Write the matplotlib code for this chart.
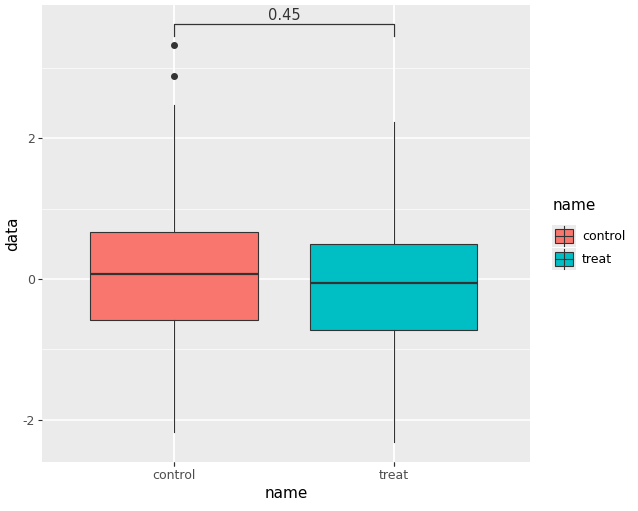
import matplotlib
matplotlib.use("Agg")
import matplotlib.pyplot as plt
from matplotlib.patches import Rectangle

plt.rcParams["axes.unicode_minus"] = False

categories = ["control", "treat"]
colors = ["#F8766D", "#00BFC4"]
q1 = [-0.58, -0.72]
med = [0.07, -0.06]
q3 = [0.67, 0.50]
whislo = [-2.17, -2.31]
whishi = [2.47, 2.23]
outliers = [[2.88, 3.33], []]
pval = "0.45"

fig = plt.figure(figsize=(6.38, 5.11), dpi=100)
ax = fig.add_axes([0.066, 0.096, 0.765, 0.894])
ax.set_facecolor("#EBEBEB")
for s in ax.spines.values():
    s.set_visible(False)
ax.set_xlim(0.4, 2.62)
ax.set_ylim(-2.6, 3.89)
ax.set_yticks([-2, 0, 2])
ax.set_yticks([-1, 1, 3], minor=True)
ax.set_xticks([1, 2])
ax.set_xticklabels(categories)
ax.grid(True, which="major", color="white", lw=1.1)
ax.grid(True, which="minor", axis="y", color="white", lw=0.5)
ax.set_axisbelow(True)
ax.tick_params(which="both", length=3, color="#333333", labelcolor="#4D4D4D", labelsize=9, pad=2)
ax.tick_params(which="minor", length=0)

stats = [dict(med=med[i], q1=q1[i], q3=q3[i], whislo=whislo[i], whishi=whishi[i],
              fliers=outliers[i], label=categories[i]) for i in range(2)]
b = ax.bxp(stats, positions=[1, 2], widths=0.76, patch_artist=True, showcaps=False,
           boxprops=dict(edgecolor="#333333", lw=0.8),
           medianprops=dict(color="#333333", lw=1.6),
           whiskerprops=dict(color="#333333", lw=0.8),
           flierprops=dict(marker="o", markerfacecolor="#333333", markeredgecolor="#333333", markersize=4))
for p, c in zip(b["boxes"], colors):
    p.set_facecolor(c)

ax.plot([1, 1, 2, 2], [3.45, 3.62, 3.62, 3.45], color="#333333", lw=0.9)
ax.text(1.5, 3.64, pval, ha="center", va="bottom", fontsize=10.5, color="#333333")

ax.set_xlabel("name", fontsize=11, labelpad=3)
ax.set_ylabel("data", fontsize=11, labelpad=2)

# legend
fig.text(553/638, 1 - 206/511, "name", fontsize=11, va="center", ha="left")
for i, (cat, c) in enumerate(zip(categories, colors)):
    yc = 236 + i * 23
    ly = 1 - (yc + 11) / 511
    bg = Rectangle((552/638, ly), 24/638, 22/511, transform=fig.transFigure,
                   facecolor="#EBEBEB", edgecolor="none")
    fig.patches.append(bg)
    fig.add_artist(plt.Line2D([564/638, 564/638], [ly + 1/511, ly + 21/511], transform=fig.transFigure, color="#333333", lw=0.8))
    r = Rectangle((555/638, ly + 4/511), 18/638, 14/511, transform=fig.transFigure,
                  facecolor=c, edgecolor="#333333", lw=0.8)
    fig.patches.append(r)
    fig.add_artist(plt.Line2D([555/638, 573/638], [ly + 11/511, ly + 11/511], transform=fig.transFigure, color="#333333", lw=0.8))
    fig.text(582/638, 1 - yc/511, cat, fontsize=9, va="center", ha="left")

fig.savefig("out.png", dpi=100)
